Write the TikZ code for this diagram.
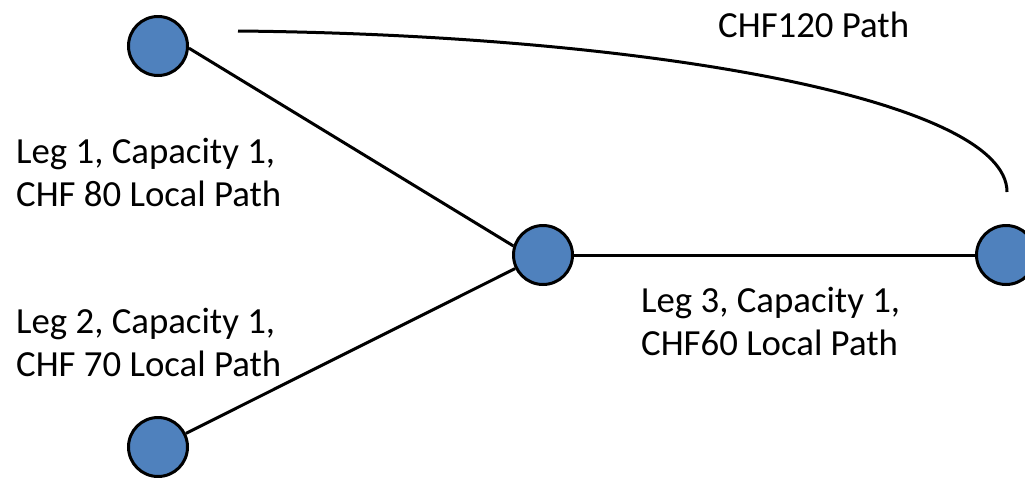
\documentclass[tikz,border=0pt]{standalone}
\usepackage{fontspec}
\setmainfont{Carlito}
\definecolor{nodeblue}{HTML}{4F81BD}
\tikzset{
  station/.style={circle, draw=black, line width=3pt, fill=nodeblue,
                  minimum size=59pt, inner sep=0pt},
  leg/.style={line width=3pt, draw=black},
  label/.style={font=\fontsize{36.8}{43}\selectfont, align=left,
                inner sep=0pt, anchor=base west}
}
\begin{document}
\begin{tikzpicture}[x=1pt, y=-1pt]
  \useasboundingbox (0,0) rectangle (1025,477);

  % stations
  \node[station] (a) at (158,46) {};
  \node[station] (b) at (543,255) {};
  \node[station] (c) at (1006,255) {};
  \node[station] (d) at (158,447) {};

  % local legs
  \draw[leg] (a.-4) -- (b.163);
  \draw[leg] (d.26) -- (b.206);
  \draw[leg] (b.east) -- (c.west);

  % through path
  \coordinate (pstart) at (238,31);
  \coordinate (pend) at (1007,192);
  \draw[leg] (pstart) .. controls (650,35) and (1007,100) .. (pend);

  % labels (anchored at the baseline of their last line)
  \node[label] (t120) at (718,37) {CHF120 Path};
  \node[label] (t1) at (16,206) {Leg 1, Capacity 1,\\CHF 80 Local Path};
  \node[label] (t2) at (16,376) {Leg 2, Capacity 1,\\CHF 70 Local Path};
  \node[label] (t3) at (641,355) {Leg 3, Capacity 1,\\CHF60 Local Path};
\end{tikzpicture}
\end{document}
